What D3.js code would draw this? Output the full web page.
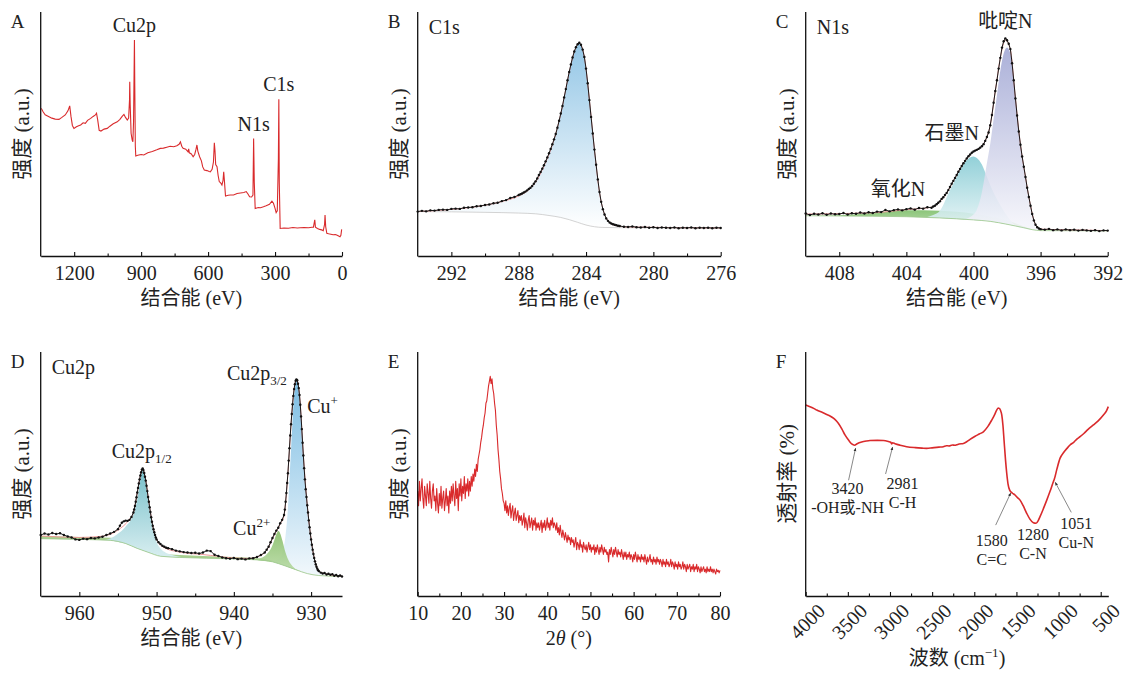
<!DOCTYPE html>
<html>
<head>
<meta charset="utf-8">
<script src="https://cdn.jsdelivr.net/npm/d3@7"></script>
<style>
  body { margin: 0; background: #fff; }
  svg text { font-family: "Liberation Serif", "Noto Sans CJK SC", serif; fill: #222; }
</style>
</head>
<body>
<div id="chart"></div>
<script>
// ---------- 数据 (强度为任意单位, 0-100) ----------
const surveyTicks = [1200, 900, 600, 300, 0];
const surveyMinor = [1050, 750, 450, 150];
const surveyData = [[1347,60.5],[1340,59.2],[1330,57.9],[1315,57.2],[1300,56.5],[1285,56.1],[1268,56],[1255,56.8],[1240,57.8],[1228,59.5],[1220,61.5],[1214,57],[1208,53.5],[1201,52.3],[1190,53],[1180,53.4],[1171,53.7],[1160,54.6],[1150,54.4],[1140,55.6],[1126,56.4],[1115,57.2],[1105,57.8],[1100,58.5],[1095,56],[1088,51.5],[1080,51.2],[1066,52],[1052,52.3],[1040,53.2],[1025,54.2],[1007,55],[995,56],[985,57.2],[977,58],[970,56.8],[962,55.7],[956,56.5],[952,64],[951,71.4],[949,62],[945,50.3],[940,47.5],[937,46.8],[934,55],[931,80],[930,88.5],[928.5,70],[926,45],[924,41],[915,41.3],[900,41.6],[888,41.4],[870,42.3],[850,42.8],[830,43.5],[814,44.1],[800,44.2],[785,44.6],[770,45],[754,44.8],[740,45.2],[730,45.8],[724,46.8],[718,45],[712,44.1],[700,43.8],[690,42.7],[687,43.9],[684,42.3],[675,41.8],[667,40.7],[660,41.6],[654,43.8],[650,45.5],[646,43],[638,40.7],[630,39],[624,36.5],[617,35.2],[605,35],[595,34.6],[590,34.5],[582,35.5],[576,38.5],[572,46.4],[569,43],[566,37.5],[560,36.6],[555,33],[550,30.5],[544,30],[538,29.1],[533,31],[530,34.5],[527,31],[522,24.6],[510,24.9],[500,25],[486,25],[470,25.6],[455,25.8],[440,26],[429,26.4],[422,25.5],[414,24.3],[405,24.2],[399,25],[396,48.2],[393,30],[389,19.5],[375,19.9],[365,19.8],[352,20.2],[340,20.6],[325,21.2],[314,22.5],[307,21.6],[300,19.5],[295,17.8],[290,18.5],[285,40],[283,64.2],[281,30],[277,11.3],[260,11.5],[240,11.4],[220,11.7],[200,11.5],[188,11.6],[170,11.7],[150,11.6],[135,11.8],[128,11.8],[122,14.8],[119,11.8],[110,11.3],[100,10.9],[91,10.7],[84,10.4],[78,13],[76,16.8],[73,12],[68,9.3],[60,9.1],[50,8.9],[40,8.7],[30,8.8],[24,8.6],[15,8.2],[9,7.9],[5,8.5],[1.5,10.9]];
const surveyPeaks = [["Cu2p", 930, 92], ["N1s", 396, 51.2], ["C1s", 283, 67.5]];

const c1sTicks = [292, 288, 284, 280, 276];
const c1sMinor = [290, 286, 282, 278];
const c1sData = [[294,18.2],[293.75,18.5],[293.5,18.3],[293.25,18.7],[293,18.6],[292.75,18.9],[292.5,19],[292.25,18.9],[292,19.3],[291.75,19.4],[291.5,19.3],[291.25,19.8],[291,19.9],[290.75,20],[290.5,20.4],[290.25,20.5],[290,20.9],[289.75,21.1],[289.5,21.6],[289.25,21.8],[289,22.5],[288.75,22.9],[288.5,23.8],[288.25,24.2],[288,25],[287.9,25.3],[287.8,25.6],[287.7,26],[287.6,26.4],[287.5,26.9],[287.4,27.5],[287.3,28],[287.2,28.7],[287.1,29.6],[287,30.6],[286.9,31.8],[286.8,33.2],[286.7,34.4],[286.6,35.8],[286.5,37.2],[286.4,38.8],[286.3,40.4],[286.2,42.1],[286.1,43.9],[286,45.8],[285.9,47.8],[285.8,50],[285.7,52.6],[285.6,55.4],[285.5,58.4],[285.4,61.5],[285.3,65],[285.2,68.4],[285.1,72],[285,75.4],[284.9,78.5],[284.8,81.4],[284.7,83.8],[284.6,85.6],[284.5,86.8],[284.4,87.4],[284.3,86.6],[284.2,84.6],[284.1,81.6],[284,76.8],[283.9,70.8],[283.8,63.9],[283.7,57],[283.6,50.2],[283.5,43.6],[283.4,37.4],[283.3,31.4],[283.2,26.2],[283.1,22.2],[283,19.2],[282.9,17],[282.8,15.4],[282.7,14.4],[282.6,13.7],[282.5,13.3],[282.4,13],[282.3,12.8],[282.2,12.6],[282.1,12.4],[282,12.3],[281.75,12],[281.5,11.9],[281.25,12.1],[281,11.8],[280.75,11.7],[280.5,11.9],[280.25,11.6],[280,11.8],[279.75,11.5],[279.5,11.7],[279.25,11.6],[279,11.5],[278.75,11.7],[278.5,11.4],[278.25,11.6],[278,11.5],[277.75,11.7],[277.5,11.4],[277.25,11.6],[277,11.5],[276.75,11.6],[276.5,11.4],[276.25,11.6],[276,11.5]];
const c1sFit = [[294,18.2],[292,19.1],[290,20.8],[289,22.3],[288,24.6],[287.5,26.6],[287,30.2],[286.5,36.8],[286,45.5],[285.5,58.2],[285,75.2],[284.7,83.6],[284.4,87.2],[284.1,81.5],[283.8,64],[283.5,43.5],[283.2,26],[283,19.3],[282.7,14.5],[282.3,12.6],[281.5,11.9],[276,11.5]];
const c1sBg = [[294,18.2],[292,18.1],[290,17.9],[288,17.6],[287,17.3],[286.2,16.6],[285.5,15.8],[285,14.9],[284.5,13.8],[284,12.7],[283.5,12],[283,11.7],[282,11.6],[276,11.5]];

const n1sTicks = [408, 404, 400, 396, 392];
const n1sMinor = [406, 402, 398, 394];
const n1sData = [[410,17.4],[409.75,16.8],[409.5,17.3],[409.25,17],[409,17.5],[408.75,16.9],[408.5,17.4],[408.25,17.1],[408,17.2],[407.75,17.6],[407.5,17],[407.25,17.5],[407,17.3],[406.75,17.8],[406.5,17.4],[406.25,17.9],[406,17.6],[405.75,18.2],[405.5,18],[405.25,18.9],[405,18.3],[404.75,18.8],[404.5,19.1],[404.25,18.7],[404,19.2],[403.75,19.5],[403.5,19],[403.25,19.7],[403,19.4],[402.75,20],[402.5,19.8],[402.4,20.3],[402.3,20.6],[402.2,21.2],[402.1,21.8],[402,22.4],[401.9,23.4],[401.8,24.1],[401.7,25],[401.6,25.8],[401.5,27],[401.4,28.3],[401.3,29.6],[401.2,30.8],[401.1,32],[401,33.2],[400.9,34.5],[400.8,35.7],[400.7,36.9],[400.6,38],[400.5,39],[400.4,40],[400.3,40.9],[400.2,41.6],[400.1,42.3],[400,42.8],[399.9,43.2],[399.8,43.5],[399.7,43.9],[399.6,44.4],[399.5,45],[399.4,45.8],[399.3,47.2],[399.2,48.8],[399.1,50.6],[399,53.6],[398.9,57.8],[398.8,62.8],[398.7,67.6],[398.6,72],[398.5,76.8],[398.4,81.2],[398.3,85.4],[398.2,88],[398.1,89.2],[398,88.4],[397.9,87],[397.8,84.8],[397.7,79],[397.6,72],[397.5,64.6],[397.4,57.6],[397.3,51],[397.2,45.6],[397.1,40.8],[397,36.6],[396.9,32.4],[396.8,28],[396.7,24.2],[396.6,20.6],[396.5,17.2],[396.4,14.6],[396.3,12.8],[396.2,11.8],[396.1,11.3],[396,11],[395.75,10.8],[395.5,11.1],[395.25,10.6],[395,10.9],[394.75,10.5],[394.5,10.9],[394.25,10.6],[394,10.8],[393.75,10.4],[393.5,10.7],[393.25,10.5],[393,10.3],[392.75,10.6],[392.5,10.2],[392.25,10.5],[392,10.4]];
const n1sFit = [[410,17.2],[406,17.7],[404,19],[402.5,20],[402,22.3],[401.5,27],[401,33.2],[400.5,39],[400,42.8],[399.5,45],[399.2,48.8],[399,53.6],[398.7,67.6],[398.4,81.2],[398.1,88.5],[397.8,84.5],[397.5,64.6],[397.2,45.6],[396.9,32.4],[396.6,20.6],[396.3,12.8],[396,11],[394,10.7],[392,10.4]];
const n1sBg = [[410,16.5],[406,16.3],[404,16.1],[402,15.6],[400,14.8],[399,14.2],[398,13],[397,11.6],[396.5,10.8],[396,10.4],[392,10.3]];
const n1sOxide = [[410,16.5],[408,16.7],[406,17.7],[404,18.7],[402,18.5],[400,17.3],[399,16.2],[398,14.6],[397,12.2],[396.5,11],[396,10.4]];
const n1sGraphitic = [[402.8,15.9],[402.4,16.8],[402,18.5],[401.5,25.5],[401,32.5],[400.5,38.5],[400.2,40.4],[400,40.8],[399.8,40.2],[399.5,37.5],[399.2,32.5],[399,29],[398.5,22],[398,16.5],[397.5,12.5],[397,11.3],[396.5,10.8]];
const n1sPyridinic = [[400.6,14.9],[400.2,16],[399.8,19],[399.5,26],[399.2,38],[399,46],[398.8,56],[398.6,66],[398.4,76],[398.2,83],[398,85.5],[397.8,83],[397.6,72],[397.4,58],[397.2,46],[397,36],[396.8,27],[396.6,19.5],[396.4,14],[396.2,11.5],[396,10.6],[395.6,10.3]];
const n1sLabels = [["吡啶N", 398.1, 93.5], ["石墨N", 401.3, 47.5], ["氧化N", 404.5, 24.6]];

const cu2pTicks = [960, 950, 940, 930];
const cu2pMinor = [955, 945, 935];
const cu2pData = [[965,25],[964.5,25.6],[964,25.2],[963.5,25.8],[963,25.4],[962.5,25.7],[962,25],[961.5,24.4],[961,24],[960.5,23.2],[960,23],[959.5,23.5],[959,23.3],[958.5,23.8],[958,23.6],[957.5,24],[957,24.3],[956.5,25],[956,25.6],[955.5,26.3],[955,27.4],[954.75,28.8],[954.5,30],[954.25,30.6],[954,30.9],[953.75,30.8],[953.5,31.2],[953.25,32.4],[953,34.2],[952.9,35.5],[952.8,36.9],[952.7,38.6],[952.6,40.5],[952.5,42.4],[952.4,44.3],[952.3,46.1],[952.2,47.8],[952.1,49.4],[952,50.7],[951.9,51.8],[951.8,52.3],[951.7,51.6],[951.6,50.4],[951.5,48.9],[951.4,47.3],[951.3,45.2],[951.2,43],[951.1,40.6],[951,38.6],[950.9,36.4],[950.8,34.4],[950.7,32.3],[950.6,30.4],[950.5,28.8],[950.4,27.4],[950.3,26.1],[950.2,25],[950.1,24],[950,23.2],[949.75,22],[949.5,21.3],[949.25,20.6],[949,20.2],[948.75,19.8],[948.5,19.6],[948,19.2],[947.5,18.6],[947,18.3],[946.5,18],[946,17.8],[945.5,17.6],[945,17.7],[944.5,17.4],[944,17.8],[943.5,18.6],[943,18.4],[942.5,16.9],[942,16.4],[941.5,15.8],[941,15.5],[940.5,15.3],[940,15.6],[939.5,15.1],[939,15.3],[938.5,15],[938,15.4],[937.5,15.5],[937,16],[936.5,16.8],[936,17.8],[935.75,19],[935.5,20.2],[935.25,22],[935,23.8],[934.75,25.4],[934.5,26.8],[934.25,28],[934,29.8],[933.75,31.2],[933.5,33.2],[933.4,35.4],[933.3,38.6],[933.2,42.2],[933.1,46.3],[933,50.3],[932.9,55.5],[932.8,60.6],[932.7,65.8],[932.6,70.4],[932.5,74.6],[932.4,78.6],[932.3,82],[932.2,84.8],[932.1,86.8],[932,88.2],[931.9,88.8],[931.8,88.4],[931.7,87],[931.6,85.2],[931.5,82.4],[931.4,78.4],[931.3,73.6],[931.2,68.4],[931.1,62.8],[931,57.6],[930.9,52.4],[930.8,47.8],[930.7,43.8],[930.6,40.6],[930.5,37.2],[930.4,34.2],[930.3,31],[930.2,28.2],[930.1,25.6],[930,23.2],[929.9,21],[929.8,19],[929.7,17.2],[929.6,15.6],[929.5,14.2],[929.4,13],[929.3,12],[929.2,11.2],[929.1,10.6],[929,10.2],[928.75,9.6],[928.5,9.2],[928.25,9.4],[928,8.8],[927.75,9.1],[927.5,8.7],[927.25,8.9],[927,8.3],[926.75,8.6],[926.5,8.1],[926.25,8.4],[926,8]];
const cu2pFit = [[965,24.6],[960,24],[957,24.5],[955,27],[953.5,31.5],[953,34],[952.5,42.4],[952,50.5],[951.8,52],[951.5,49],[951,38.6],[950.5,28.8],[950,23.2],[949,19.8],[947,18],[944,17],[940,15.6],[938,15.4],[937,16],[936,17.8],[935.5,20],[935,23.5],[934.5,26.5],[934,29.5],[933.5,33],[933,50.3],[932.5,74.6],[932,88],[931.8,88.2],[931.5,82.4],[931,57.6],[930.5,37.2],[930,23.2],[929.5,14.2],[929,10.2],[928,9],[926,8.1]];
const cu2pBg = [[965,23.5],[960,23.2],[956,22.8],[954,21.5],[952.5,19.5],[951,17.8],[949.5,16.3],[947,15.8],[940,15.2],[937,14.8],[935,14],[933.5,12.5],[932,10.8],[930.5,9.2],[929,8.4],[926,8]];
const cu2pSat = [[965,24.6],[960,24.2],[956,23.9],[954,22.6],[952.5,20.6],[951,18.8],[949.5,17.3],[947,16.8],[944,16.4],[940,16],[937,15.5],[935,14.4],[933.5,12.8],[932,10.9],[930.5,9.2],[929,8.4],[926,8]];
const cu2pHalf = [[957,22.9],[956,23.6],[955,25.5],[954,28.5],[953,33.5],[952.5,39.5],[952.2,45.5],[952,49.5],[951.8,51.5],[951.6,50],[951.4,46.5],[951.2,42],[951,37.5],[950.6,30],[950.2,24.5],[950,22.2],[949.5,19.5],[949,18.1],[948,16.8],[947,16.1],[946,15.7]];
const cu2pCu2 = [[937.5,14.9],[936.5,15.6],[936,16.4],[935.5,18],[935,20.8],[934.7,23.5],[934.4,26],[934.2,26.6],[934,25.6],[933.7,22.5],[933.4,18.8],[933,15.2],[932.5,12.6],[932,11.1],[931.5,10.3],[931,9.7]];
const cu2pCu1 = [[935,14.2],[934.5,14.8],[934,15.8],[933.6,19],[933.3,25],[933,36],[932.8,48],[932.6,60],[932.4,72],[932.2,82],[932,87],[931.9,88.2],[931.8,88],[931.6,85],[931.4,78],[931.2,68],[931,57],[930.8,47.5],[930.6,40.5],[930.4,34],[930.2,28],[930,23],[929.7,17],[929.4,12.8],[929,10],[928.5,8.8],[928,8.3],[927,8.1]];
const cu2pLabels = [["Cu2p", "1/2", 955.8, 56.6, "sub"], ["Cu2p", "3/2", 940.9, 88.5, "sub"], ["Cu", "+", 930.5, 75, "sup"], ["Cu", "2+", 940.1, 25, "sup"]];

const xrdTicks = [10, 20, 30, 40, 50, 60, 70, 80];
const xrdMinor = [15, 25, 35, 45, 55, 65, 75];
const xrdStart = 10, xrdStep = 0.2;
const xrdCounts = [
  43, 37, 47, 39, 44, 48, 40, 36, 45, 41, 37, 46, 42, 38, 47, 40, 36, 43, 46, 39,
  41, 35, 44, 38, 34, 42, 37, 45, 36, 40, 43, 35, 39, 44, 37, 41, 34, 43, 38, 45,
  39, 46, 41, 37, 47, 40, 44, 35, 46, 41, 48, 39, 45, 42, 49, 40, 46, 43, 48, 41,
  47, 43, 49, 45, 50, 47, 52, 49, 54, 51, 56, 58, 60, 63, 65, 68, 70, 73, 75, 79,
  80, 83, 86, 88, 90, 87, 89, 85, 83, 79, 76, 70, 66, 60, 56, 51, 48, 44, 42, 39,
  38, 35, 39, 34, 37, 33, 36, 38, 32, 35, 37, 31, 34, 36, 31, 33, 35, 30, 33, 31,
  33, 29, 31, 34, 28, 32, 30, 27, 31, 33, 28, 30, 32, 27, 31, 29, 32, 27, 30, 28,
  30, 27, 29, 31, 26, 30, 28, 31, 27, 29, 32, 28, 30, 27, 31, 29, 32, 28, 30, 29,
  27, 30, 26, 28, 25, 29, 26, 24, 27, 25, 23, 26, 24, 22, 25, 23, 24, 21, 24, 22,
  23, 20, 22, 24, 19, 22, 21, 19, 23, 20, 21, 18, 22, 20, 19, 21, 18, 20, 22, 19,
  21, 18, 20, 19, 21, 17, 20, 18, 21, 19, 17, 20, 18, 21, 19, 17, 20, 18, 19, 17,
  18, 14, 19, 17, 20, 18, 16, 19, 17, 20, 18, 16, 19, 17, 18, 16, 19, 17, 15, 18,
  16, 18, 15, 17, 16, 18, 15, 17, 16, 14, 17, 15, 18, 16, 14, 17, 15, 16, 14, 17,
  15, 16, 14, 17, 15, 13, 16, 14, 15, 17, 14, 15, 13, 16, 14, 15, 13, 16, 14, 15,
  13, 15, 14, 12, 15, 13, 14, 12, 15, 13, 14, 12, 13, 15, 12, 14, 13, 11, 14, 12,
  13, 11, 14, 12, 13, 11, 12, 14, 11, 13, 12, 10, 13, 11, 12, 13, 10, 12, 11, 13,
  10, 12, 11, 13, 10, 12, 11, 9.5, 12, 10, 11, 12, 10, 11, 9.5, 12, 10, 11, 10, 12,
  10, 11, 9.5, 11, 10, 9, 11, 10, 10.5, 9.5, 10.5
];

const ftirTicks = [4000, 3500, 3000, 2500, 2000, 1500, 1000, 500];
const ftirMinor = [3750, 3250, 2750, 2250, 1750, 1250, 750];
const ftirData = [[4000,78.3],[3950,77.6],[3900,76.8],[3869,76.2],[3800,75.2],[3750,74.4],[3712,73.8],[3660,72.6],[3613,70.8],[3570,68.4],[3534,66],[3490,63.8],[3454,62.3],[3420,61.8],[3390,62.4],[3336,63.1],[3280,63.5],[3237,63.7],[3150,63.8],[3079,63.7],[3020,63.3],[2990,63],[2981,62.3],[2970,62.8],[2940,62.4],[2880,61.8],[2802,61.2],[2700,60.8],[2620,60.6],[2565,60.5],[2500,60.7],[2420,61],[2367,61.2],[2330,61.6],[2300,61.5],[2260,61.9],[2230,61.8],[2208,62],[2180,62.3],[2130,62.5],[2090,63.2],[2050,64.2],[1990,65.5],[1940,66.4],[1892,67.3],[1840,69.4],[1793,72.1],[1760,74.2],[1734,76.2],[1715,77],[1703,76.9],[1688,76],[1674,74.2],[1660,70],[1647,63.9],[1630,56],[1615,50.3],[1600,46],[1580,43.4],[1550,42.2],[1517,41.4],[1490,40.4],[1457,39.3],[1420,37],[1378,33.9],[1340,31.5],[1299,30],[1267,29.8],[1240,31],[1220,32.5],[1180,35.8],[1140,39.3],[1100,43],[1062,46.8],[1051,47.8],[1020,52],[983,56.4],[940,58.8],[900,60.5],[864,61.9],[820,63],[780,64.4],[745,65.3],[700,66.6],[650,68.3],[587,70.1],[530,71.8],[468,74.2],[430,76],[410,77.6]];
// [第一行, 第二行]
const ftirBands = [["3420", "-OH或-NH"], ["2981", "C-H"], ["1580", "C=C"], ["1280", "C-N"], ["1051", "Cu-N"]];
const ftirBandPos = [3420, 2981, 1580, 1280, 1051];

// ---------- 布局 ----------
const W = 1125, H = 673;
const svg = d3.select("#chart").append("svg").attr("width", W).attr("height", H);
const defs = svg.append("defs");

function grad(id, top, bottom) {
  const g = defs.append("linearGradient").attr("id", id)
    .attr("x1", 0).attr("y1", 0).attr("x2", 0).attr("y2", 1);
  g.append("stop").attr("offset", "0%").attr("stop-color", top);
  g.append("stop").attr("offset", "100%").attr("stop-color", bottom);
  return `url(#${id})`;
}

function panel(opt) {
  const { letter, x0, x1, top, bottom, domain, ticks, minor, xTitle, yTitle } = opt;
  const x = d3.scaleLinear().domain(domain).range([x0, x1]);
  const y = d3.scaleLinear().domain([0, 100]).range([bottom, top]);
  const g = svg.append("g");
  const marks = g.append("g");

  // 轴
  const ax = g.append("g").attr("transform", `translate(0,${bottom})`)
    .call(d3.axisBottom(x).tickValues(ticks).tickSizeInner(-4).tickSizeOuter(0)
      .tickPadding(opt.rotate ? 8 : 10).tickFormat(d3.format("d")));
  ax.select(".domain").attr("stroke", "#111").attr("stroke-width", 1.3);
  ax.selectAll(".tick line").attr("stroke", "#111").attr("stroke-width", 1.1);
  ax.selectAll(".tick text").style("font-size", "20px").attr("fill", "#222");
  if (opt.rotate) {
    ax.selectAll(".tick text")
      .attr("text-anchor", "end")
      .attr("transform", "translate(6,2) rotate(-45)")
      .attr("dy", "0.6em");
  }
  const mx = g.append("g").attr("transform", `translate(0,${bottom})`)
    .call(d3.axisBottom(x).tickValues(minor).tickSize(-2.5).tickFormat(""));
  mx.select(".domain").remove();
  mx.selectAll(".tick line").attr("stroke", "#111").attr("stroke-width", 1.1);
  g.append("line").attr("x1", x0).attr("x2", x0).attr("y1", top).attr("y2", bottom + 0.6)
    .attr("stroke", "#111").attr("stroke-width", 1.3);

  g.append("text").attr("x", x0 - 30).attr("y", top + 16).style("font-size", "19px").text(letter);
  const xt = g.append("text").attr("x", (x0 + x1) / 2).attr("y", bottom + (opt.rotate ? 69 : 49))
    .attr("text-anchor", "middle").style("font-size", "20px");
  xTitle(xt);
  g.append("text").attr("transform", `translate(${x0 - 19},${(top + bottom) / 2}) rotate(-90)`)
    .attr("text-anchor", "middle").attr("dy", "0.35em").style("font-size", "21px").text(yTitle);
  if (opt.inner) {
    g.append("text").attr("x", x0 + 11).attr("y", top + 22).style("font-size", "20px").text(opt.inner);
  }
  return { x, y, g: marks, top, bottom };
}

const plainTitle = t => sel => sel.text(t);

// XPS 辅助: 组分面积 (组分曲线与背景之间)
function component(p, comp, bg, fill, opacity) {
  const lo = d3.min(comp, d => d[0]), hi = d3.max(comp, d => d[0]);
  const base = bg.filter(d => d[0] >= lo && d[0] <= hi);
  const top = d3.line().x(d => p.x(d[0])).y(d => p.y(d[1])).curve(d3.curveMonotoneX)(comp.slice().sort((a, b) => b[0] - a[0]));
  const bot = base.slice().sort((a, b) => a[0] - b[0]).map(d => `L${p.x(d[0])},${p.y(d[1])}`).join("");
  p.g.append("path").attr("d", top + bot + "Z").attr("fill", fill).attr("opacity", opacity || 1);
}
function xpsLines(p, data, fit, bg, bgColor) {
  const ln = d3.line().x(d => p.x(d[0])).y(d => p.y(d[1]));
  p.g.append("path").attr("d", ln.curve(d3.curveMonotoneX)(bg)).attr("fill", "none")
    .attr("stroke", bgColor).attr("stroke-width", 0.8);
  p.g.append("path").attr("d", ln.curve(d3.curveMonotoneX)(fit)).attr("fill", "none")
    .attr("stroke", "#ec8f8f").attr("stroke-width", 0.9);
  p.g.append("path").attr("d", d3.line().x(d => p.x(d[0])).y(d => p.y(d[1]))(data)).attr("fill", "none")
    .attr("stroke", "#1a1a1a").attr("stroke-width", 1);
  p.g.selectAll(null).data(data).enter().append("circle")
    .attr("cx", d => p.x(d[0])).attr("cy", d => p.y(d[1])).attr("r", 1.2).attr("fill", "#111");
}

const RED = "#d92a2c";
const be = plainTitle("结合能 (eV)");

// A 全谱
{
  const p = panel({ letter: "A", x0: 40.7, x1: 342, top: 12, bottom: 256, domain: [1350, 0],
    ticks: surveyTicks, minor: surveyMinor, xTitle: be, yTitle: "强度 (a.u.)" });
  p.g.append("path").attr("d", d3.line().x(d => p.x(d[0])).y(d => p.y(d[1]))(surveyData))
    .attr("fill", "none").attr("stroke", RED).attr("stroke-width", 1.1);
  p.g.selectAll(null).data(surveyPeaks).enter().append("text")
    .attr("x", d => p.x(d[1])).attr("y", d => p.y(d[2])).attr("text-anchor", "middle")
    .style("font-size", "20px").text(d => d[0]);
}

// B C1s
{
  const p = panel({ letter: "B", x0: 417.7, x1: 720.7, top: 12, bottom: 256, domain: [294, 276],
    ticks: c1sTicks, minor: c1sMinor, xTitle: be, yTitle: "强度 (a.u.)", inner: "C1s" });
  component(p, c1sFit, c1sBg, grad("gB", "#93c6e6", "#ffffff"));
  xpsLines(p, c1sData, c1sFit, c1sBg, "#c8c8c8");
}

// C N1s
{
  const p = panel({ letter: "C", x0: 805.7, x1: 1107.7, top: 12, bottom: 256, domain: [410, 392],
    ticks: n1sTicks, minor: n1sMinor, xTitle: be, yTitle: "强度 (a.u.)", inner: "N1s" });
  component(p, n1sOxide, n1sBg, grad("gC1", "#8cc57a", "#c4e2b8"));
  component(p, n1sGraphitic, n1sBg, grad("gC2", "#86cbd4", "#eaf6f7"), 0.9);
  component(p, n1sPyridinic, n1sBg, grad("gC3", "#9da3d2", "#f6f6fb"), 0.85);
  xpsLines(p, n1sData, n1sFit, n1sBg, "#9cc78c");
  p.g.selectAll(null).data(n1sLabels).enter().append("text")
    .attr("x", d => p.x(d[1])).attr("y", d => p.y(d[2])).attr("text-anchor", "middle")
    .style("font-size", "20px").text(d => d[0]);
}

// D Cu2p
{
  const p = panel({ letter: "D", x0: 40.7, x1: 342, top: 352, bottom: 596, domain: [965, 926],
    ticks: cu2pTicks, minor: cu2pMinor, xTitle: be, yTitle: "强度 (a.u.)", inner: "Cu2p" });
  component(p, cu2pSat, cu2pBg, "#a9d08f");
  component(p, cu2pHalf, cu2pBg, grad("gD1", "#78c0cb", "#d8eef0"));
  component(p, cu2pCu1, cu2pBg, grad("gD2", "#7cbde3", "#f2f8fc"));
  component(p, cu2pCu2, cu2pBg, grad("gD3", "#86bd68", "#b9dba4"), 0.9);
  xpsLines(p, cu2pData, cu2pFit, cu2pBg, "#9cc78c");
  const t = p.g.selectAll(null).data(cu2pLabels).enter().append("text")
    .attr("x", d => p.x(d[2])).attr("y", d => p.y(d[3])).style("font-size", "20px");
  t.append("tspan").text(d => d[0]);
  t.append("tspan").attr("dy", d => d[4] === "sub" ? 5 : -8).style("font-size", "13px").text(d => d[1]);
}

// E XRD
{
  const p = panel({ letter: "E", x0: 417.7, x1: 720, top: 352, bottom: 596, domain: [10, 80],
    ticks: xrdTicks, minor: xrdMinor, yTitle: "强度 (a.u.)",
    xTitle: sel => { sel.append("tspan").text("2"); sel.append("tspan").style("font-style", "italic").text("θ"); sel.append("tspan").text(" (°)"); } });
  p.g.append("path")
    .attr("d", d3.line().x((d, i) => p.x(xrdStart + i * xrdStep)).y(d => p.y(d))(xrdCounts))
    .attr("fill", "none").attr("stroke", RED).attr("stroke-width", 1.1).attr("stroke-linejoin", "round");
}

// F FTIR
{
  const p = panel({ letter: "F", x0: 805.7, x1: 1108.3, top: 352, bottom: 596, domain: [4000, 410],
    ticks: ftirTicks, minor: ftirMinor, yTitle: "透射率 (%)", rotate: true,
    xTitle: sel => { sel.append("tspan").text("波数 (cm"); sel.append("tspan").attr("dy", -8).style("font-size", "13px").text("−1"); sel.append("tspan").attr("dy", 8).text(")"); } });
  p.g.append("path").attr("d", d3.line().x(d => p.x(d[0])).y(d => p.y(d[1])).curve(d3.curveMonotoneX)(ftirData))
    .attr("fill", "none").attr("stroke", RED).attr("stroke-width", 1.6);

  defs.append("marker").attr("id", "arr").attr("viewBox", "0 0 10 10").attr("refX", 9).attr("refY", 5)
    .attr("markerWidth", 5).attr("markerHeight", 5).attr("orient", "auto")
    .append("path").attr("d", "M0,1 L10,5 L0,9 Z").attr("fill", "#333");

  // 标注偏移 (像素): 文本中心 dx, 第一行基线 (相对曲线) dy, 箭头尾 dx, dy
  const layout = [
    { tx: -7, ty: 49, arrow: [-6, 35] },
    { tx: 11, ty: 45, arrow: [-6, 30] },
    { tx: -18, ty: 56, arrow: [-14, 35] },
    { tx: -2, ty: 17, arrow: null },
    { tx: 22, ty: 50, arrow: [17, 33] }
  ];
  ftirBands.forEach((b, i) => {
    const wn = ftirBandPos[i];
    const pt = ftirData.reduce((a, d) => Math.abs(d[0] - wn) < Math.abs(a[0] - wn) ? d : a);
    const cx = p.x(wn), cy = p.y(pt[1]);
    const L = layout[i];
    if (L.arrow) {
      p.g.append("line").attr("x1", cx + L.arrow[0]).attr("y1", cy + L.arrow[1])
        .attr("x2", cx + 1).attr("y2", cy + 3).attr("stroke", "#555").attr("stroke-width", 0.7)
        .attr("marker-end", "url(#arr)");
    }
    const t = p.g.append("text").attr("text-anchor", "middle").style("font-size", "16px");
    t.append("tspan").attr("x", cx + L.tx).attr("y", cy + L.ty).text(b[0]);
    t.append("tspan").attr("x", cx + L.tx).attr("dy", 19).text(b[1]);
  });
}
</script>
</body>
</html>
